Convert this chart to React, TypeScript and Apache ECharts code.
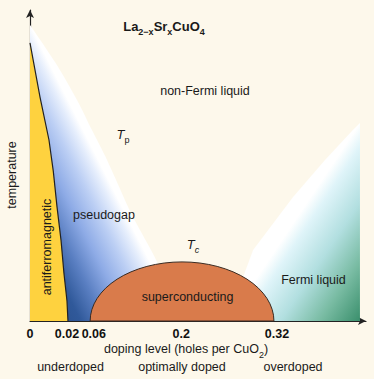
import React, { useEffect, useRef } from 'react';
import * as echarts from 'echarts';

// Schematic axes: both run 0–100 along the drawn axis lines.
const tickPositions = [0, 11, 19, 45, 73.5];
const tickLabels = ['0', '0.02', '0.06', '0.2', '0.32'];

// Antiferromagnetic boundary (Néel line)
const afBoundaryX = [0, 2.98, 5.65, 6.93, 8.04, 9.23, 10.1, 11.0, 11.3];
const afBoundaryT = [89.4, 72.0, 58.2, 48.2, 36.7, 26.0, 15.4, 6.5, 0];

// Pseudogap crossover line T_p
const tpLineX = [0, 7.44, 13.99, 18.45, 22.92, 30.36, 37.8, 44.64];
const tpLineT = [95.2, 83.3, 71.1, 61.4, 51.8, 34.1, 19.0, 0];

// Fermi-liquid crossover
const fermiX = [58.9, 63.4, 66.4, 78.3, 87.8, 96.1, 98.2, 98.2];
const fermiT = [0, 14.1, 22.8, 39.9, 51.8, 61.4, 63.7, 0];

// Superconducting dome: start, end, peak Tc
const domeStart = 17.9;
const domeEnd = 72.6;
const domePeak = 19.0;

const FONT = 'Liberation Sans, Arial, sans-serif';

const zip = (xs: number[], ys: number[]) => xs.map((x, i) => [x, ys[i]]);

export default function App() {
  const ref = useRef<HTMLDivElement>(null);

  useEffect(() => {
    if (!ref.current) return;
    const chart = echarts.init(ref.current, undefined, { renderer: 'svg' });

    const txt = (x: number, y: number, text: string, extra: any = {}) => ({
      type: 'text',
      x,
      y,
      z: 100,
      rotation: extra.rotation || 0,
      style: {
        text,
        fontFamily: FONT,
        fontSize: 12.5,
        fill: '#1a1a1a',
        align: 'center',
        verticalAlign: 'middle',
        ...(extra.style || {}),
      },
    });

    const subRich = (mainSize: number, mainStyle: any = {}, subStyle: any = {}) => ({
      m: { fontSize: mainSize, fontFamily: FONT, lineHeight: mainSize + 2, verticalAlign: 'top', fill: '#1a1a1a', ...mainStyle },
      s: { fontSize: 9, fontFamily: FONT, lineHeight: 10, padding: [Math.round(mainSize * 0.6), 0, 0, 0], verticalAlign: 'top', fill: '#1a1a1a', ...subStyle },
    });

    chart.setOption({
      animation: false,
      backgroundColor: '#fdf8eb',
      grid: { left: 30, right: 8, top: 10, bottom: 58, containLabel: false, outerBoundsMode: 'none' },
      xAxis: {
        type: 'value',
        min: 0,
        max: 100,
        splitLine: { show: false },
        axisTick: { show: false },
        axisLine: {
          show: true,
          symbol: ['none', 'arrow'],
          symbolSize: [6, 8],
          lineStyle: { color: '#222', width: 1.2 },
        },
        axisLabel: {
          customValues: tickPositions,
          formatter: (v: number) => {
            const i = tickPositions.indexOf(v);
            return i >= 0 ? tickLabels[i] : '';
          },
          fontFamily: FONT,
          fontWeight: 'bold',
          fontSize: 12.5,
          color: '#111',
          margin: 6,
          hideOverlap: false,
        },
      },
      yAxis: {
        type: 'value',
        min: 0,
        max: 100,
        splitLine: { show: false },
        axisTick: { show: false },
        axisLabel: { show: false },
        axisLine: {
          show: true,
          symbol: ['none', 'arrow'],
          symbolSize: [6, 8],
          lineStyle: { color: '#222', width: 1.2 },
        },
      },
      series: [
        {
          name: 'pseudogap',
          type: 'line',
          data: zip(tpLineX, tpLineT),
          showSymbol: false,
          smooth: 0.3,
          lineStyle: { width: 0 },
          areaStyle: {
            opacity: 1,
            color: new echarts.graphic.LinearGradient(0, 1, 1, 0, [
              { offset: 0, color: '#24467f' },
              { offset: 0.17, color: '#30599a' },
              { offset: 0.25, color: '#5a7fc2' },
              { offset: 0.33, color: '#8eabe6' },
              { offset: 0.41, color: '#bccff4' },
              { offset: 0.47, color: '#e6eefc' },
              { offset: 0.5, color: '#ffffff' },
            ]),
          },
          z: 1,
        },
        {
          name: 'Fermi liquid',
          type: 'line',
          data: zip(fermiX, fermiT),
          showSymbol: false,
          lineStyle: { width: 0 },
          areaStyle: {
            opacity: 1,
            color: new echarts.graphic.LinearGradient(0, 0, 1, 1, [
              { offset: 0.5, color: '#ffffff' },
              { offset: 0.56, color: '#dff4f9' },
              { offset: 0.7, color: '#b2dfe0' },
              { offset: 0.85, color: '#78bba2' },
              { offset: 1, color: '#3a8f6c' },
            ]),
          },
          z: 1,
        },
        {
          name: 'antiferromagnetic',
          type: 'line',
          data: zip(afBoundaryX, afBoundaryT),
          showSymbol: false,
          smooth: false,
          lineStyle: { width: 1.2, color: '#222' },
          areaStyle: { opacity: 1, color: '#fed23f' },
          z: 3,
        },
        {
          name: 'superconducting',
          type: 'custom',
          data: [[domeStart, domeEnd, domePeak]],
          renderItem: (_p: any, api: any) => {
            const s = api.value(0);
            const e = api.value(1);
            const h = api.value(2);
            const p0 = api.coord([s, 0]);
            const p1 = api.coord([e, 0]);
            const top = api.coord([(s + e) / 2, h]);
            const rx = (p1[0] - p0[0]) / 2;
            const ry = p0[1] - top[1];
            return {
              type: 'path',
              shape: {
                pathData: `M${p0[0]} ${p0[1]} A${rx} ${ry} 0 0 1 ${p1[0]} ${p1[1]} Z`,
              },
              style: { fill: '#d97b4b', stroke: '#3a2b22', lineWidth: 1 },
            };
          },
          z: 5,
        },
      ],
      graphic: [
        {
          type: 'text',
          x: 164,
          y: 27,
          z: 100,
          style: {
            text: '{m|La}{s|2−x}{m|Sr}{s|x}{m|CuO}{s|4}',
            align: 'center',
            verticalAlign: 'middle',
            rich: subRich(13, { fontWeight: 'bold' }, { fontWeight: 'bold' }),
          },
        },
        txt(205, 91, 'non-Fermi liquid'),
        {
          type: 'text',
          x: 123,
          y: 135,
          z: 100,
          style: {
            text: '{m|T}{s|p}',
            align: 'center',
            verticalAlign: 'middle',
            rich: subRich(13, { fontStyle: 'italic' }),
          },
        },
        txt(104, 215, 'pseudogap'),
        {
          type: 'text',
          x: 193,
          y: 245,
          z: 100,
          style: {
            text: '{m|T}{s|c}',
            align: 'center',
            verticalAlign: 'middle',
            rich: subRich(13, { fontStyle: 'italic' }, { fontStyle: 'italic' }),
          },
        },
        txt(187.5, 297, 'superconducting'),
        txt(313.5, 280, 'Fermi liquid'),
        txt(47, 247, 'antiferromagnetic', { rotation: Math.PI / 2 }),
        txt(12, 175, 'temperature', { rotation: Math.PI / 2 }),
        {
          type: 'text',
          x: 186,
          y: 350,
          z: 100,
          style: {
            text: '{m|doping level (holes per CuO}{s|2}{m|)}',
            align: 'center',
            verticalAlign: 'middle',
            rich: subRich(12.5),
          },
        },
        txt(70.5, 367, 'underdoped'),
        txt(182, 367, 'optimally doped'),
        txt(293, 367, 'overdoped'),
      ],
    });

    return () => chart.dispose();
  }, []);

  return (
    <div
      ref={ref}
      style={{ position: 'absolute', left: 0, top: 0, width: 374, height: 379 }}
    />
  );
}
